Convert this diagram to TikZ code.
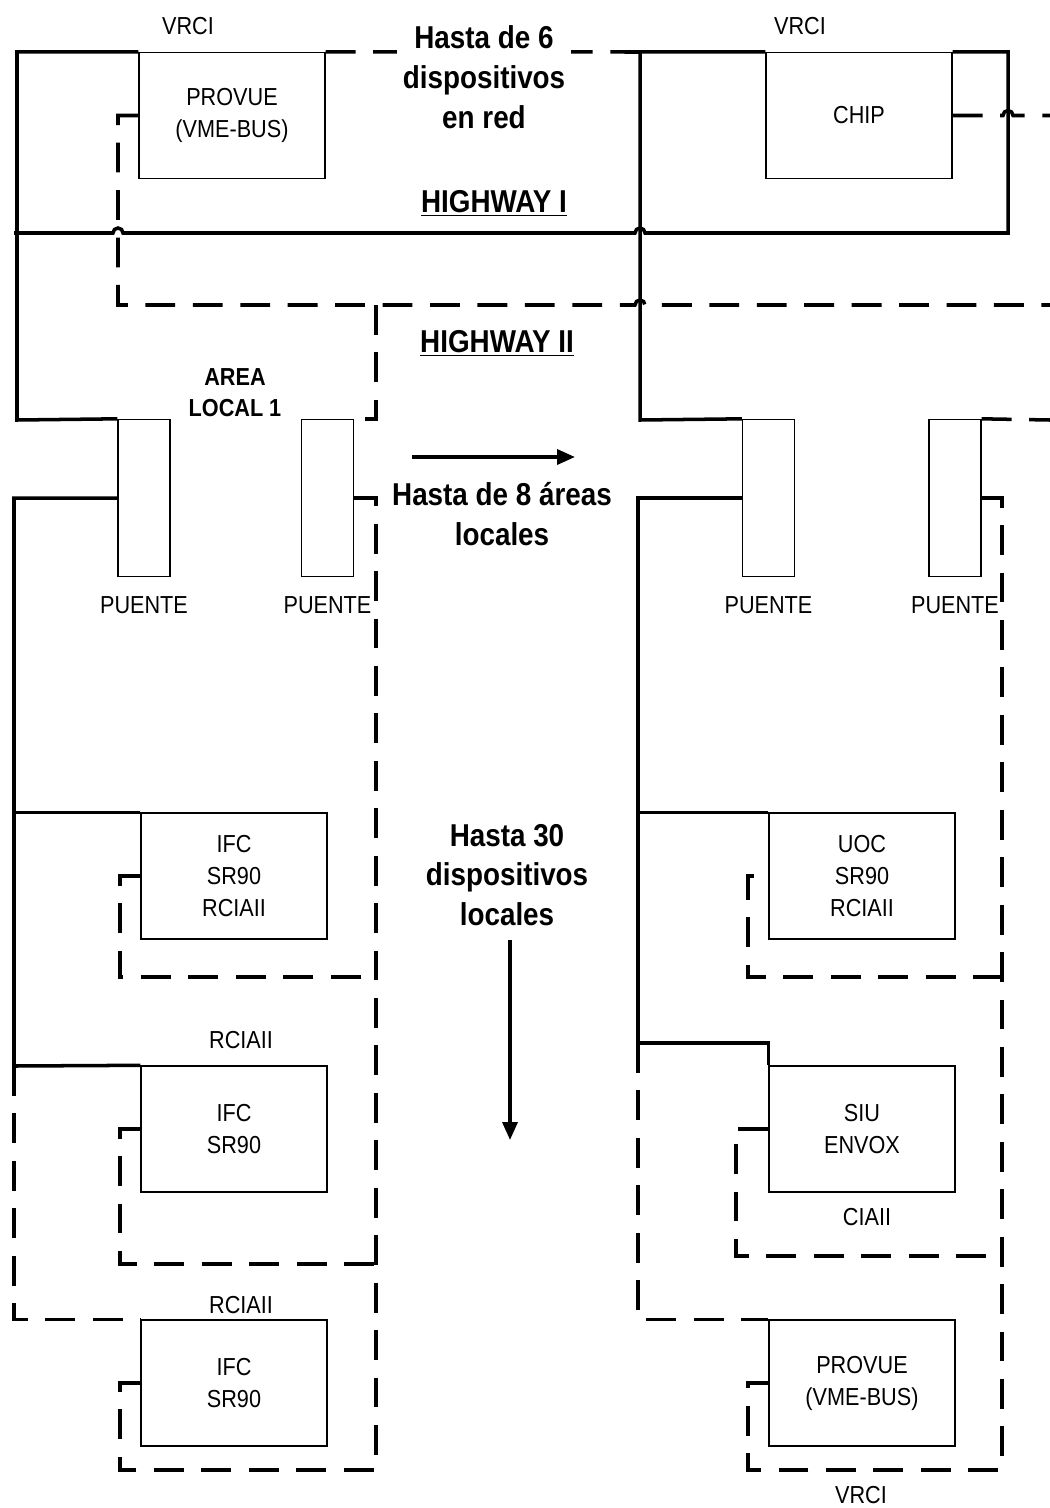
\documentclass[tikz,border=0pt]{standalone}
\usepackage{fontspec}
\setmainfont{Liberation Sans}[FakeStretch=0.88]
\usetikzlibrary{arrows.meta, positioning}

\begin{document}
\begin{tikzpicture}[
    x=0.02cm, y=-0.02cm,
    node distance=0.26cm,
    box/.style={rectangle, draw, line width=0.8pt, minimum width=3.72cm,
                minimum height=2.52cm, inner sep=0pt, align=center,
                font=\fontsize{14}{18.2}\selectfont},
    bridge/.style={rectangle, draw, line width=0.8pt, minimum width=1.04cm,
                minimum height=3.14cm, inner sep=0pt},
    lbl/.style={font=\fontsize{14}{18.2}\selectfont, align=center},
    big/.style={font=\fontsize{18}{22.7}\selectfont\bfseries, align=center},
    bus/.style={line width=2pt},
    hwy/.style={line width=2pt, dash pattern=on 17pt off 10pt},
    arr/.style={-{Stealth[length=3.6mm, width=3mm, inset=0pt]}, line width=2pt},
]
    \useasboundingbox (0,0) rectangle (1050,1508);

    % devices on the highways
    \node[box] (provueA) at (232,115.5) {PROVUE\\(VME-BUS)};
    \node[box] (chip)    at (859,115.5) {CHIP};
    \node[lbl] (vrciA) at (188,26) {VRCI};
    \node[lbl] (vrciB) at (800,26) {VRCI};

    % bridges
    \node[bridge] (brA) at (144,498) {};
    \node[bridge] (brB) at (327.5,498) {};
    \node[bridge] (brC) at (768.5,498) {};
    \node[bridge] (brD) at (955,498) {};
    \node[lbl, below=of brA] (puA) {PUENTE};
    \node[lbl, below=of brB] (puB) {PUENTE};
    \node[lbl, below=of brC] (puC) {PUENTE};
    \node[lbl, below=of brD] (puD) {PUENTE};

    % local devices
    \node[box] (ifcA)    at (234,876)  {IFC\\SR90\\RCIAII};
    \node[box] (ifcB)    at (234,1129) {IFC\\SR90};
    \node[box] (ifcC)    at (234,1383) {IFC\\SR90};
    \node[box] (uoc)     at (862,876)  {UOC\\SR90\\RCIAII};
    \node[box] (siu)     at (862,1129) {SIU\\ENVOX};
    \node[box] (provueB) at (862,1383) {PROVUE\\(VME-BUS)};
    \node[lbl] (rciaA) at (241,1040) {RCIAII};
    \node[lbl] (rciaB) at (241,1305) {RCIAII};
    \node[lbl] (ciaii) at (867,1217) {CIAII};
    \node[lbl] (vrciC) at (861,1495) {VRCI};

    % bus corners
    \coordinate (trunkL) at (17,420);
    \coordinate (trunkR) at (640,420);
    \coordinate (hwIw)  at (14,233);
    \coordinate (hwIe)  at (1008,233);
    \coordinate (hwIIw) at (118,305);
    \coordinate (hwIIe) at (1050,305);
    \coordinate (locL)  at (14,1066);
    \coordinate (locR)  at (638,1043);
    \coordinate (dashL) at (376,1470);
    \coordinate (dashR) at (1002,1470);

    % Highway I (solid)
    \draw[bus] (provueA.north west) -| (trunkL) -- (brA.north west);
    \draw[bus] (chip.north west) -| (trunkR) -- (brC.north west);
    \draw[bus] (hwIw) -- (113,233) arc[start angle=180, end angle=360, radius=5]
        -- (635,233) arc[start angle=180, end angle=360, radius=5]
        -- (hwIe) |- (chip.north east);

    % Highway II (dashed)
    \draw[hwy] (provueA.west) -| (hwIIw) -- (635,305)
        arc[start angle=180, end angle=360, radius=5] -- (hwIIe);
    \draw[hwy] (provueA.north east) -- (640,52);
    \draw[hwy] (chip.east) -- (1003,115.5)
        arc[start angle=180, end angle=360, radius=5] -- (1050,115.5);
    \draw[hwy] (376,305) |- (brB.north east);
    \draw[hwy] (brD.north east) -- (1050,420);

    % local area 1
    \draw[bus] (brA.west) -| (locL) -- (ifcB.north west);
    \draw[bus] (locL |- ifcA.north) -- (ifcA.north west);
    \draw[hwy] (locL) |- (ifcC.north west);
    \draw[hwy] (brB.east) -| (dashL) -| (120,1383) -- (ifcC.west);
    \draw[hwy] (ifcA.west) -| (120,977) -- (376,977);
    \draw[hwy] (ifcB.west) -| (120,1264) -- (376,1264);

    % local area 2
    \draw[bus] (brC.west) -| (locR) -| (siu.north west);
    \draw[bus] (locR |- uoc.north) -- (uoc.north west);
    \draw[hwy] (locR) |- (provueB.north west);
    \draw[hwy] (brD.east) -| (dashR) -| (748,1383) -- (provueB.west);
    \draw[hwy] (754,876) -| (748,977) -- (1002,977);
    \draw[hwy] (siu.west) -| (736,1256) -- (1002,1256);

    % notes
    \node[big, fill=white] (netnote) at (484,77) {Hasta de 6\\dispositivos\\en red};
    \node[big] (hwI)  at (494,203) {\underline{HIGHWAY I}};
    \node[big] (hwII) at (497,343) {\underline{HIGHWAY II}};
    \node[font=\fontsize{14}{17.6}\selectfont\bfseries, align=center] (area) at (235,393) {AREA\\LOCAL 1};
    \node[big] (areasnote) at (502,514) {Hasta de 8 áreas\\locales};
    \node[big] (localnote) at (507,875) {Hasta 30\\dispositivos\\locales};
    \coordinate (arR0) at (412,457);
    \coordinate (arR1) at (575,457);
    \coordinate (arD0) at (510,940);
    \coordinate (arD1) at (510,1140);
    \draw[arr] (arR0) -- (arR1);
    \draw[arr] (arD0) -- (arD1);
\end{tikzpicture}
\end{document}
